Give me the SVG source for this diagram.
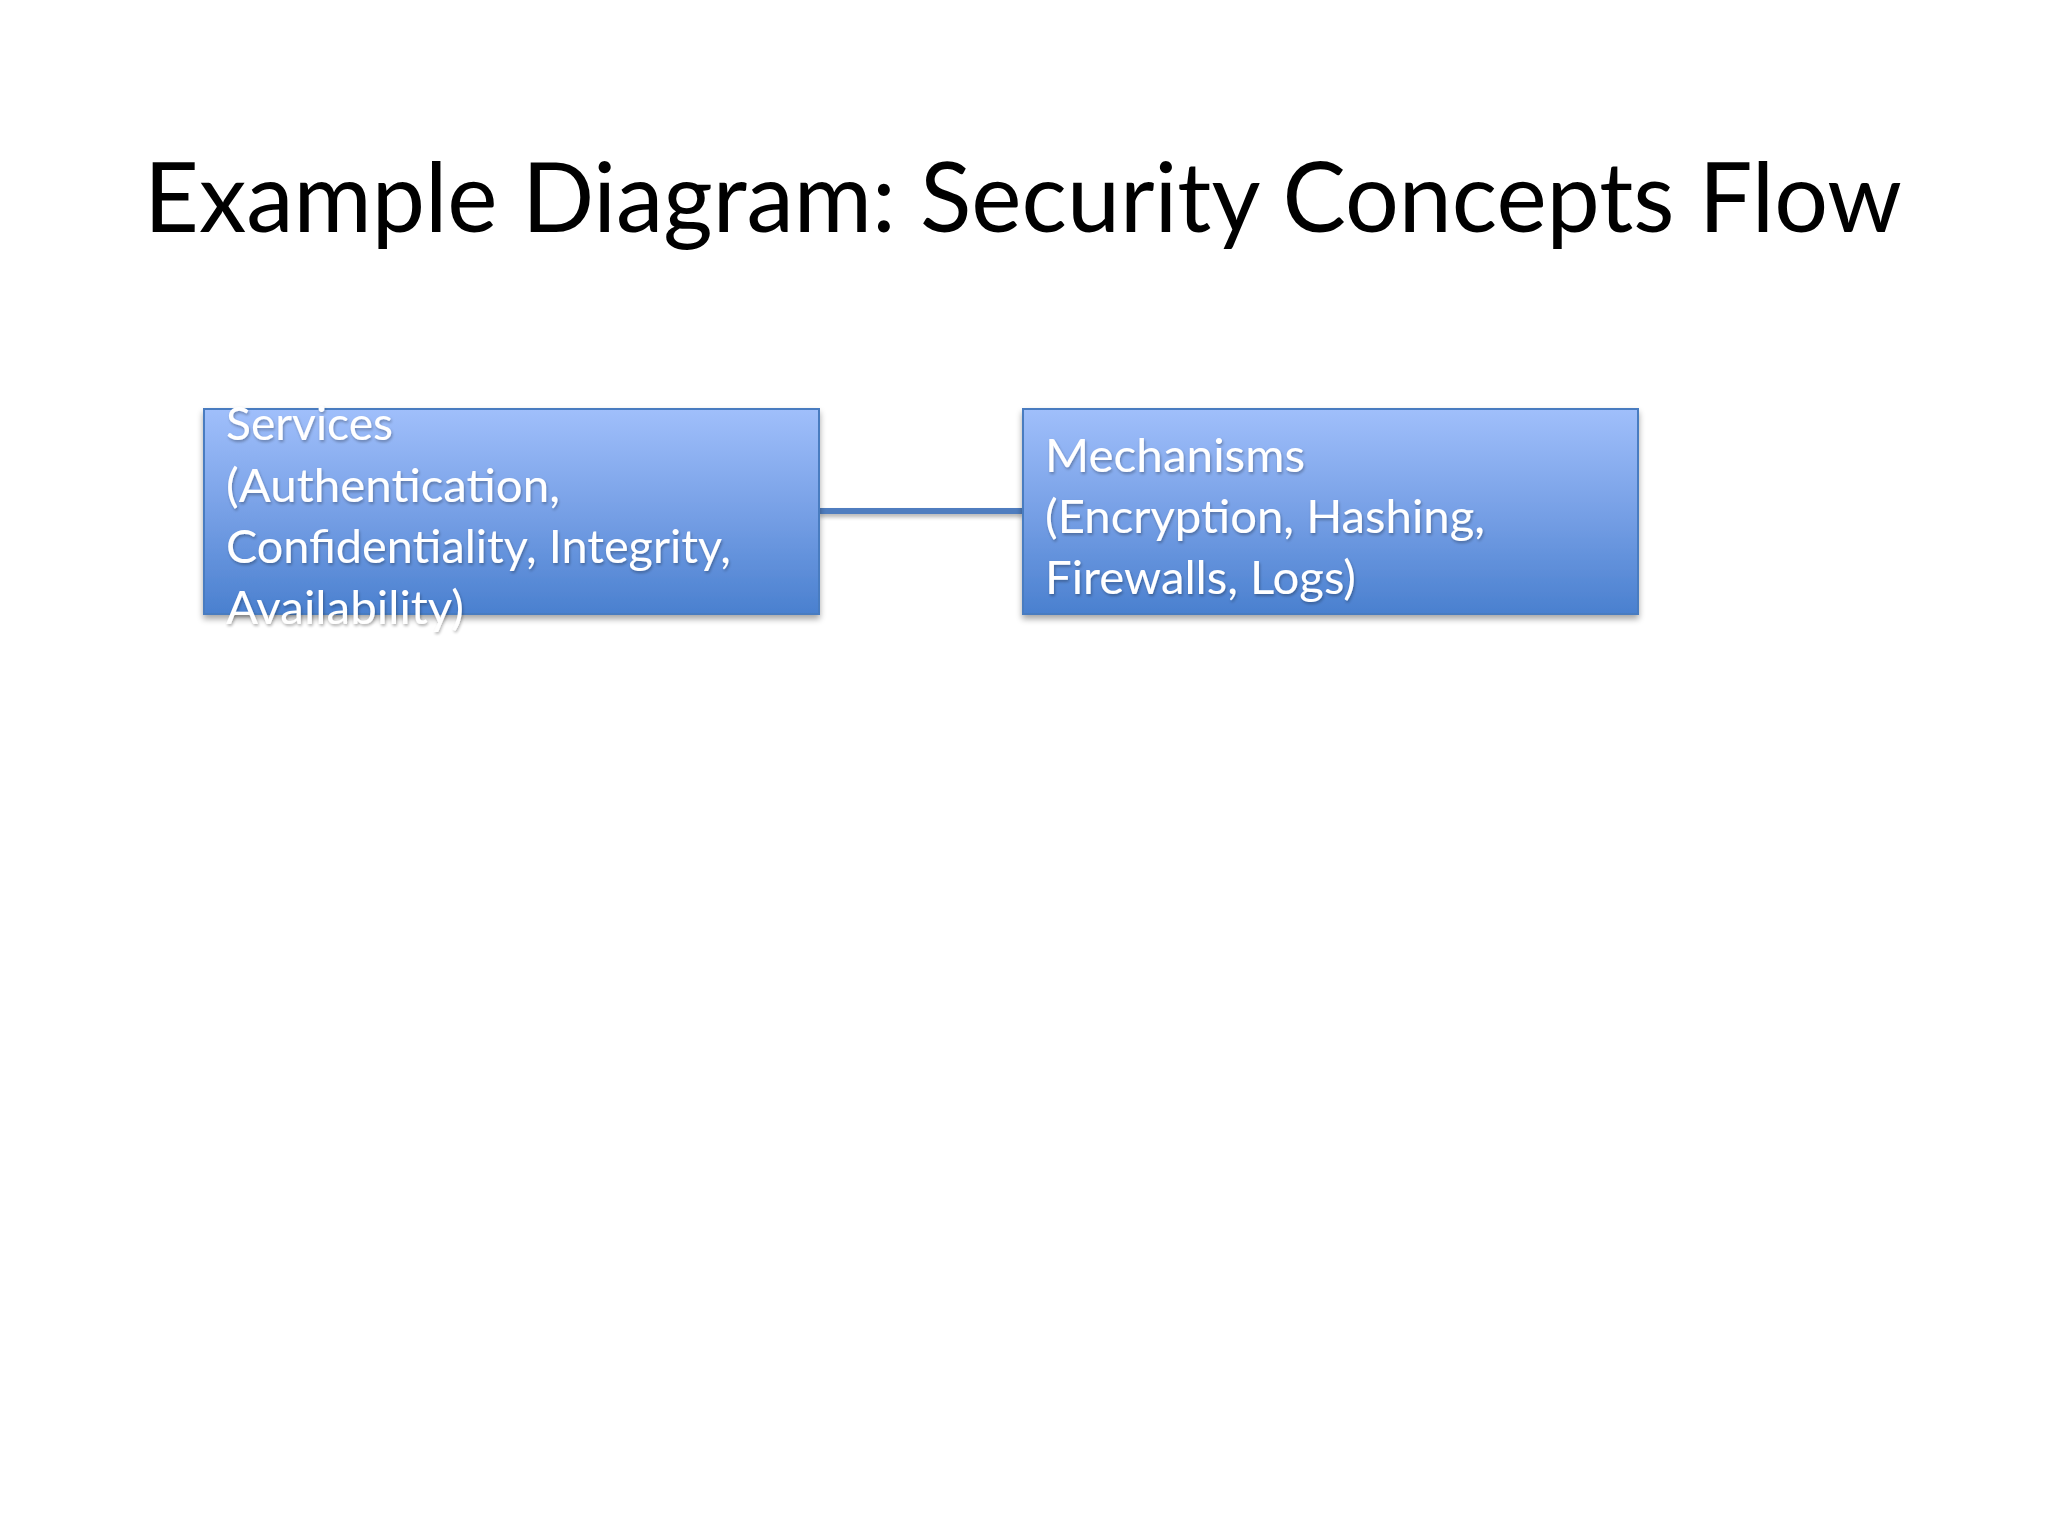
<svg xmlns="http://www.w3.org/2000/svg" width="2048" height="1536" viewBox="0 0 2048 1536">
  <defs>
    <linearGradient id="boxGrad" x1="0" y1="0" x2="0" y2="1">
      <stop offset="0" stop-color="#a0bffb"/>
      <stop offset="0.5" stop-color="#77a0e6"/>
      <stop offset="1" stop-color="#4a80cf"/>
    </linearGradient>
    <filter id="shadow" x="-5%" y="-5%" width="110%" height="120%">
      <feGaussianBlur in="SourceAlpha" stdDeviation="3"/>
      <feOffset dx="0" dy="4" result="b"/>
      <feComponentTransfer><feFuncA type="linear" slope="0.35"/></feComponentTransfer>
      <feMerge><feMergeNode/><feMergeNode in="SourceGraphic"/></feMerge>
    </filter>
    <filter id="lshadow" filterUnits="userSpaceOnUse" x="800" y="495" width="240" height="35">
      <feGaussianBlur in="SourceAlpha" stdDeviation="2"/>
      <feOffset dx="0" dy="3" result="b"/>
      <feComponentTransfer><feFuncA type="linear" slope="0.3"/></feComponentTransfer>
      <feMerge><feMergeNode/><feMergeNode in="SourceGraphic"/></feMerge>
    </filter>
    <filter id="tshadow" x="-10%" y="-30%" width="120%" height="160%">
      <feGaussianBlur in="SourceAlpha" stdDeviation="1.5"/>
      <feOffset dx="1" dy="2" result="b"/>
      <feComponentTransfer><feFuncA type="linear" slope="0.3"/></feComponentTransfer>
      <feMerge><feMergeNode/><feMergeNode in="SourceGraphic"/></feMerge>
    </filter>
  </defs>
  <style>
    .title { font-family: Lato, "Open Sans", "Liberation Sans", sans-serif; font-size: 96px; fill: #000000; }
    .box { fill: url(#boxGrad); stroke: #4a7bc0; stroke-width: 2; filter: url(#shadow); }
    .label { font-family: Lato, "Open Sans", "Liberation Sans", sans-serif; font-size: 47px; fill: #ffffff; filter: url(#tshadow); }
    .conn { stroke: #4f7dbf; stroke-width: 6; fill: none; filter: url(#lshadow); }
  </style>
  <rect width="2048" height="1536" fill="#ffffff"/>
  <text class="title" x="144" y="232" textLength="1758" lengthAdjust="spacingAndGlyphs">Example Diagram: Security Concepts Flow</text>
  <g id="connectors">
    <path class="conn" d="M819,511 L1023,511"/>
  </g>
  <g id="services">
    <rect class="box" x="204" y="409" width="615" height="205"/>
    <text class="label" x="226" y="440" textLength="167" lengthAdjust="spacingAndGlyphs">Services</text>
    <text class="label" x="226" y="502" textLength="334" lengthAdjust="spacingAndGlyphs">(Authentication,</text>
    <text class="label" x="226" y="563" textLength="505" lengthAdjust="spacingAndGlyphs">Confidentiality, Integrity,</text>
    <text class="label" x="226" y="624" textLength="238" lengthAdjust="spacingAndGlyphs">Availability)</text>
  </g>
  <g id="mechanisms">
    <rect class="box" x="1023" y="409" width="615" height="205"/>
    <text class="label" x="1045" y="472" textLength="260" lengthAdjust="spacingAndGlyphs">Mechanisms</text>
    <text class="label" x="1045" y="533" textLength="440" lengthAdjust="spacingAndGlyphs">(Encryption, Hashing,</text>
    <text class="label" x="1045" y="594" textLength="311" lengthAdjust="spacingAndGlyphs">Firewalls, Logs)</text>
  </g>
</svg>
